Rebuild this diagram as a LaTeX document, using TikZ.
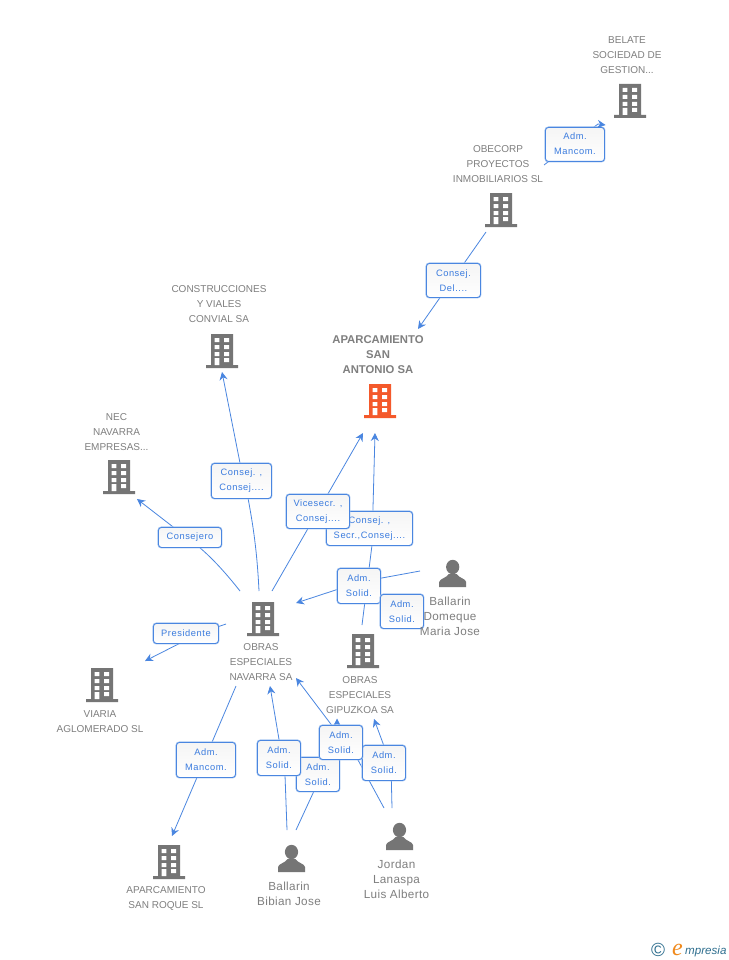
\documentclass[tikz,border=0pt]{standalone}
\usepackage{fontspec}
\setmainfont{Liberation Sans}
\newfontfamily\boxfont[LetterSpace=6]{Liberation Sans}
\newfontfamily\persfont[LetterSpace=3]{Liberation Sans}
\newfontfamily\logofont{Liberation Serif}
\usetikzlibrary{arrows.meta,shadings}
\definecolor{grayicon}{HTML}{757575}
\definecolor{graytext}{HTML}{7F7F7F}
\definecolor{linkblue}{HTML}{4A86E0}
\definecolor{halo}{HTML}{A9C8F2}
\definecolor{boxtext}{HTML}{3A7BDE}
\definecolor{mainorange}{HTML}{F4592B}
\definecolor{logoteal}{HTML}{2F6F8F}
\definecolor{logoorange}{HTML}{F08A1D}
\tikzset{
  x=1pt,y=-1pt,
  link/.style={draw=linkblue,line width=0.8pt},
  linkarrow/.style={link,-{Stealth[length=8pt,width=8pt]}},
  lbl/.style={text=graytext,align=center,inner sep=0,font=\fontsize{10}{15}\selectfont},
  mainlbl/.style={lbl,font=\fontsize{11.3}{15}\selectfont\bfseries},
  perslbl/.style={lbl,font=\fontsize{11.7}{15}\persfont},
  rel/.style={rounded corners=3pt,draw=linkblue,line width=0.9pt,top color=white!96!black,bottom color=white,
    text=boxtext,align=center,inner sep=0,anchor=north west,
    font=\fontsize{9.3}{15}\boxfont,
    preaction={draw=halo,line width=2pt}},
  bldg/.pic={
    \fill[pic actions] (-11,0) rectangle (11,31) (-16,31) rectangle (16,34);
    \fill[white] (-7.5,4) rectangle (-2.7,8) (2,4) rectangle (7,8)
      (-7.5,11) rectangle (-2.7,15) (2,11) rectangle (7,15)
      (-7.5,18) rectangle (-2.7,22) (2,18) rectangle (7,22)
      (-7.5,24) rectangle (-2.7,31) (2,24) rectangle (7,28);
  },
  pers/.pic={
    \fill[grayicon] (0,7) ellipse (6.6 and 7.2);
    \fill[grayicon] (-13.5,27) -- (-13.5,22) .. controls (-13,18.5) and (-6,18) .. (-4,14) -- (4,14)
      .. controls (6,18) and (13,18.5) .. (13.5,22) -- (13.5,27) -- cycle;
  }
}
\begin{document}
\begin{tikzpicture}
\useasboundingbox (0,0) rectangle (728,960);
\fill[white] (0,0) rectangle (728,960);
% end points of connectors
\coordinate (a1) at (544,165); \coordinate (m1) at (598,124); \coordinate (b1) at (605.5,125);
\coordinate (a2) at (486,232); \coordinate (b2) at (418,329);
\coordinate (a3) at (259,591); \coordinate (m3) at (248,498); \coordinate (n3) at (240,463); \coordinate (b3) at (222,372);
\coordinate (a4) at (240,591); \coordinate (m4) at (199,547); \coordinate (b4) at (137,499);
\coordinate (a5) at (272,591); \coordinate (b5) at (363,433);
\coordinate (a6) at (362,625); \coordinate (m6) at (372,545); \coordinate (b6) at (375,433);
\coordinate (a7) at (420,571); \coordinate (m7) at (360,582); \coordinate (b7) at (296,603);
\coordinate (a8) at (226,624); \coordinate (m8) at (200,633); \coordinate (b8) at (145,661);
\coordinate (a9) at (236,686); \coordinate (b9) at (172,836);
\coordinate (a10) at (287,830); \coordinate (m10) at (285,775); \coordinate (b10) at (270,686);
\coordinate (a11) at (296,830); \coordinate (m11) at (314,791); \coordinate (n11) at (337,735); \coordinate (b11) at (337,718.5);
\coordinate (a12) at (384,808); \coordinate (m12) at (358,760); \coordinate (b12) at (296,678);
\coordinate (a13) at (392,808); \coordinate (m13) at (391,765); \coordinate (b13) at (374,719);
% connectors
\draw[link] (a1) -- (m1);
\draw[linkarrow] (a2) -- (b2);
\draw[linkarrow] (a3) .. controls (257,550) and (253,525) .. (m3) -- (n3) -- (b3);
\draw[linkarrow] (a4) .. controls (225,572) and (212,558) .. (m4) -- (b4);
\draw[linkarrow] (a5) -- (b5);
\draw[linkarrow] (a6) -- (m6) -- (b6);
\draw[linkarrow] (a7) -- (m7) -- (b7);
\draw[linkarrow] (a8) -- (m8) -- (b8);
\draw[linkarrow] (a9) -- (b9);
\draw[linkarrow] (a10) -- (m10) -- (b10);
\draw[linkarrow] (a11) -- (m11) -- (n11) -- (b11);
\draw[linkarrow] (a12) -- (m12) -- (b12);
\draw[linkarrow] (a13) -- (m13) -- (b13);
% relation boxes
\node[rel,minimum width=59pt,minimum height=34pt] (r1) at (545,127) {Adm.\\Mancom.\rule[-1.5pt]{0pt}{0pt}};
\node[rel,minimum width=54pt,minimum height=34pt] (r2) at (426,263) {Consej.\\Del....};
\node[rel,minimum width=60pt,minimum height=35pt] (r3) at (211,463) {Consej. ,\\Consej....};
\node[rel,minimum width=63pt,minimum height=20pt] (r4) at (158,527) {Consejero};
\node[rel,minimum width=86pt,minimum height=34pt] (r6) at (326,511) {Consej. ,\\Secr.,Consej....};
\node[rel,minimum width=63pt,minimum height=34pt] (r5) at (286,494) {Vicesecr. ,\\Consej....};
\node[rel,minimum width=43pt,minimum height=35pt] (r7) at (337,568) {Adm.\\Solid.};
\node[rel,minimum width=43pt,minimum height=34pt] (r7b) at (380,594) {Adm.\\Solid.};
\node[rel,minimum width=65pt,minimum height=20pt] (r8) at (153,623) {Presidente};
\node[rel,minimum width=59pt,minimum height=35pt] (r9) at (176,742) {Adm.\\Mancom.};
\node[rel,minimum width=43pt,minimum height=34pt] (r11) at (296,757) {Adm.\\Solid.};
\node[rel,minimum width=43pt,minimum height=35pt] (r10) at (257,740) {Adm.\\Solid.};
\node[rel,minimum width=43pt,minimum height=35pt] (r13) at (362,745) {Adm.\\Solid.};
\node[rel,minimum width=43pt,minimum height=34pt] (r12) at (319,725) {Adm.\\Solid.};
\draw[linkarrow] (m1) -- (b1);
% icons
\pic[fill=grayicon] at (630,84) {bldg};
\pic[fill=grayicon] at (501,193) {bldg};
\pic[fill=grayicon] at (222,334) {bldg};
\pic[fill=mainorange] at (380,384) {bldg};
\pic[fill=grayicon] at (119,460) {bldg};
\pic[fill=grayicon] at (263,602) {bldg};
\pic[fill=grayicon] at (102,668) {bldg};
\pic[fill=grayicon] at (363,634) {bldg};
\pic[fill=grayicon] at (169,845) {bldg};
\pic at (452.7,560) {pers};
\pic at (291.5,845) {pers};
\pic at (399.5,823) {pers};
% names
\node[lbl] (t1) at (627,55) {BELATE\\SOCIEDAD DE\\GESTION...};
\node[lbl] (t2) at (498,164) {OBECORP\\PROYECTOS\\INMOBILIARIOS SL};
\node[lbl] (t3) at (219,304) {CONSTRUCCIONES\\Y VIALES\\CONVIAL SA};
\node[mainlbl] (t4) at (378,355) {APARCAMIENTO\\SAN\\ANTONIO SA};
\node[lbl] (t5) at (116.5,432) {NEC\\NAVARRA\\EMPRESAS...};
\node[lbl] (t6) at (261,662) {OBRAS\\ESPECIALES\\NAVARRA SA};
\node[lbl] (t7) at (100,721.5) {VIARIA\\AGLOMERADO SL};
\node[lbl] (t8) at (360,695) {OBRAS\\ESPECIALES\\GIPUZKOA SA};
\node[lbl] (t9) at (166,898.5) {APARCAMIENTO\\SAN ROQUE SL};
\node[perslbl] (t10) at (450,616) {Ballarin\\Domeque\\Maria Jose};
\node[perslbl] (t11) at (289,893.5) {Ballarin\\Bibian Jose};
\node[perslbl] (t12) at (396.5,879) {Jordan\\Lanaspa\\Luis Alberto};
% logo
\node[text=logoteal,inner sep=0,font=\fontsize{19}{19}\selectfont] (c0) at (658,949.5) {©};
\node[text=logoorange,inner sep=0,anchor=base west,font=\fontsize{24}{24}\logofont\itshape] (e0) at (672,955) {e};
\node[text=logoteal,inner sep=0,anchor=base west,font=\fontsize{11.6}{14}\selectfont\itshape] (e1) at (685,954) {mpresia};
\end{tikzpicture}
\end{document}
